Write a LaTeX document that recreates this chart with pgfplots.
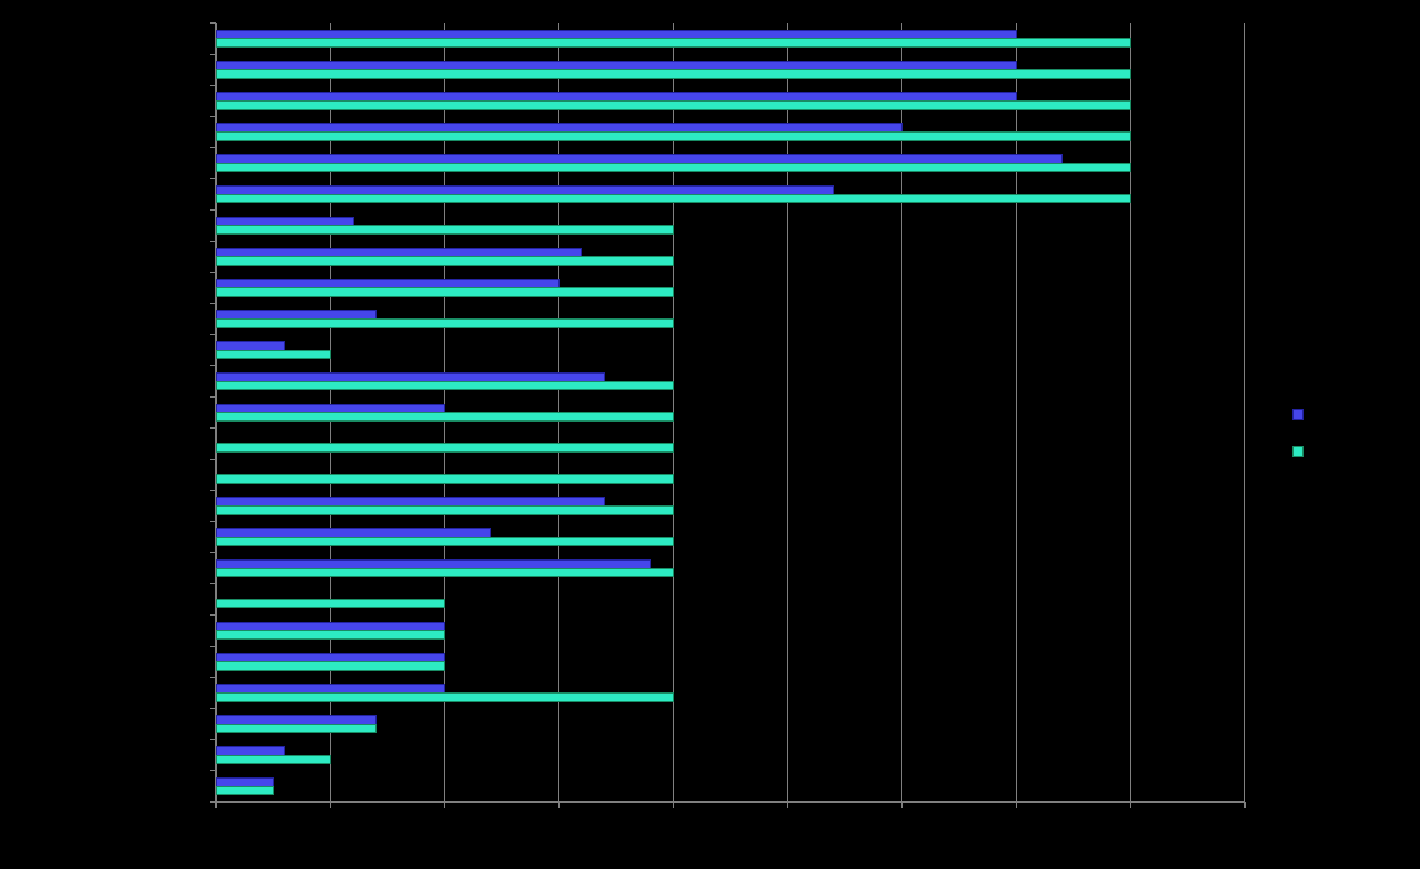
\documentclass[border=0pt]{standalone}
\usepackage{pgfplots}
\pgfplotsset{compat=1.18}
\usepackage{pgfplotstable}
\definecolor{bluemain}{RGB}{70,70,235}
\definecolor{bluedark}{RGB}{35,35,160}
\definecolor{tealmain}{RGB}{45,235,195}
\definecolor{tealdark}{RGB}{25,140,100}
\definecolor{gridgray}{RGB}{128,128,128}
\pgfplotstableread{
y blue
1 7
2 7
3 7
4 6
5 7.4
6 5.4
7 1.2
8 3.2
9 3
10 1.4
11 0.6
12 3.4
13 2
16 3.4
17 2.4
18 3.8
20 2
21 2
22 2
23 1.4
24 0.6
25 0.5
}\bluedata
\pgfplotstableread{
y teal
1 8
2 8
3 8
4 8
5 8
6 8
7 4
8 4
9 4
10 4
11 1
12 4
13 4
14 4
15 4
16 4
17 4
18 4
19 2
20 2
21 2
22 4
23 1.4
24 1
25 0.5
}\tealdata
\begin{document}
\begin{tikzpicture}
\fill[black] (0,0) rectangle (710pt,434.5pt);
\begin{axis}[
  at={(108pt,33.5pt)}, anchor=south west,
  scale only axis, width=514.5pt, height=389.5pt,
  xbar, y dir=reverse,
  xmin=0, xmax=9, ymin=0.5, ymax=25.5,
  xtick={0,1,...,9}, ytick={0.5,1.5,...,25.5},
  xticklabels={}, yticklabels={},
  axis x line*=bottom, axis y line*=left,
  axis line style={gridgray, line width=0.6pt, -},
  tick style={gridgray, line width=0.6pt},
  tick align=outside, major tick length=3pt,
  xmajorgrids, grid style={gridgray, line width=0.5pt},
  bar width=4.2pt,
  legend style={at={(1.0399,0.4737)}, anchor=west, draw=none, fill=none,
    nodes={inner sep=0pt, text height=5pt, text depth=0pt},
    row sep=13pt, text=black},
  legend image code/.code={\filldraw[#1] (0pt,-2.5pt) rectangle (5pt,2.5pt);},
]
\addplot[bar shift=2.1pt, draw=bluedark, line width=0.6pt, fill=bluemain]
  table[x=blue, y=y] {\bluedata};
\addlegendentry{\phantom{x}}
\addplot[bar shift=-2.1pt, draw=tealdark, line width=0.6pt, fill=tealmain]
  table[x=teal, y=y] {\tealdata};
\addlegendentry{\phantom{x}}
\end{axis}
\pgfresetboundingbox
\path[use as bounding box] (0,0) rectangle (710pt,434.5pt);
\end{tikzpicture}
\end{document}
